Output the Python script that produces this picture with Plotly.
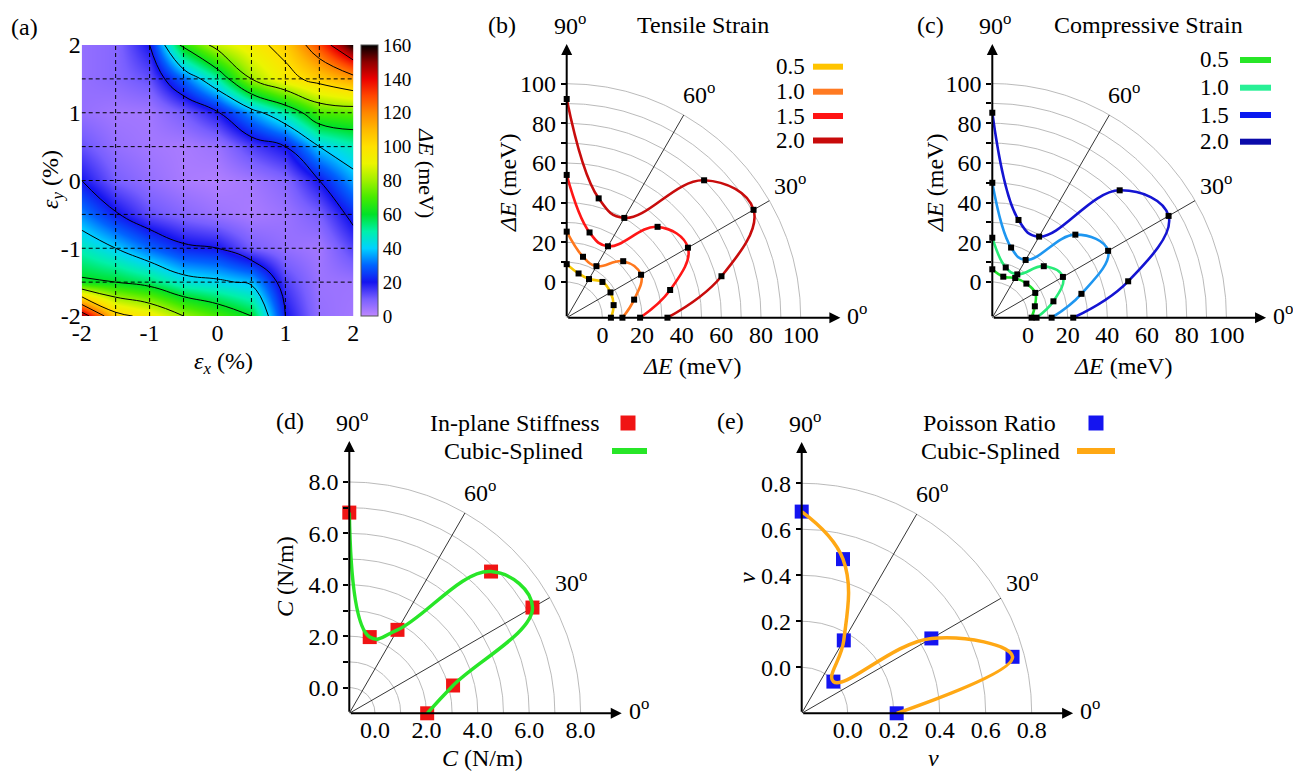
import numpy as np
import plotly.graph_objects as go

W, H = 1293, 771
FONT = "'Liberation Serif', 'Times New Roman', Times, serif"

# ---------------- data ----------------
# (a) band-gap change map, meV, on strain grid (%)
eps_x = [-2.0, -1.5, -1.0, -0.5, 0.0, 0.5, 1.0, 1.5, 2.0]
eps_y = [-2.0, -1.5, -1.0, -0.5, 0.0, 0.5, 1.0, 1.5, 2.0]
dE_map = [
    [150, 105, 95, 80, 70, 60, 20, 6, 4],
    [62, 60, 55, 45, 42, 38, 14, 5, 5],
    [48, 40, 30, 22, 20, 10, 6, 4, 14],
    [33, 21, 12, 8, 5, 3, 5, 10, 23],
    [20, 10, 6, 3, 2, 4, 8, 20, 36],
    [12, 6, 4, 3, 5, 14, 20, 40, 48],
    [6, 4, 4, 10, 19, 35, 50, 70, 72],
    [6, 8, 12, 30, 50, 80, 95, 105, 115],
    [6, 8, 20, 65, 85, 95, 105, 130, 160],
]
contour_levels = [20, 40, 60, 80, 100, 120, 140]
cbar_ticks = [0, 20, 40, 60, 80, 100, 120, 140, 160]
map_ticks = [-2, -1, 0, 1, 2]

# polar angles (degrees)
angles = [0, 15, 30, 45, 60, 75, 90]
strain_labels = ["0.5", "1.0", "1.5", "2.0"]

# (b) tensile strain, ΔE (meV)
tensile_05 = [4.3, 6.5, 7.5, 7.5, 4.5, 5.1, 9.0]
tensile_10 = [10.1, 17.2, 25.3, 22.3, 12.0, 13.8, 25.4]
tensile_15 = [19.0, 36.0, 52.6, 46.8, 23.6, 26.5, 54.0]
tensile_20 = [32.8, 62.8, 90.8, 80.0, 40.1, 44.3, 92.3]

# (c) compressive strain, ΔE (meV)
compress_05 = [1.8, 4.2, 7.0, 6.3, 5.1, 3.4, 6.4]
compress_10 = [4.3, 13.9, 23.1, 18.7, 7.2, 8.2, 22.3]
compress_15 = [11.9, 28.5, 49.4, 41.2, 15.6, 18.6, 50.0]
compress_20 = [22.8, 52.9, 84.6, 72.8, 29.2, 33.0, 85.3]

# (d) in-plane stiffness (N/m)
stiffness = [2.03, 3.18, 7.23, 6.80, 2.75, 2.07, 6.81]
# (e) Poisson ratio
poisson = [0.213, 0.749, 0.451, -0.005, 0.166, 0.494, 0.677]

# ---------------- styles ----------------
tensile_colors = ["rgb(245,198,0)", "rgb(255,120,30)", "rgb(255,22,22)", "rgb(200,12,12)"]
tensile_legend_colors = ["rgb(255,196,0)", "rgb(255,122,34)", "rgb(255,20,20)", "rgb(200,10,10)"]
compress_colors = ["rgb(30,225,45)", "rgb(40,235,120)", "rgb(30,150,240)", "rgb(20,20,210)"]
compress_legend_colors = ["rgb(40,230,40)", "rgb(40,240,150)", "rgb(10,25,240)", "rgb(10,10,170)"]

CS = [
    [0.0, "rgb(190,135,255)"], [0.0625, "rgb(120,95,255)"], [0.125, "rgb(20,20,240)"],
    [0.1875, "rgb(0,100,255)"], [0.25, "rgb(0,210,255)"], [0.3125, "rgb(0,240,170)"],
    [0.375, "rgb(0,225,40)"], [0.4375, "rgb(70,235,0)"], [0.5, "rgb(160,240,0)"],
    [0.5625, "rgb(235,245,0)"], [0.625, "rgb(255,225,0)"], [0.6875, "rgb(255,185,0)"],
    [0.75, "rgb(255,135,0)"], [0.8125, "rgb(255,70,0)"], [0.875, "rgb(235,0,0)"],
    [0.9375, "rgb(140,0,0)"], [1.0, "rgb(0,0,0)"],
]

fig = go.Figure()


def tf(size=24):
    return dict(size=size, family=FONT, color="black")


def ann_px(text, px, py, size=24, xanchor="center", yanchor="middle", angle=0):
    fig.add_annotation(text=text, x=px / W, y=1 - py / H, xref="paper", yref="paper",
                       showarrow=False, font=tf(size), xanchor=xanchor, yanchor=yanchor,
                       textangle=angle)


def line_px(x0, x1, y, color, width=6):
    fig.add_shape(type="line", xref="paper", yref="paper", x0=x0 / W, x1=x1 / W,
                  y0=1 - y / H, y1=1 - y / H, line=dict(color=color, width=width))


def rect_px(cx, cy, s, color):
    fig.add_shape(type="rect", xref="paper", yref="paper", x0=(cx - s / 2) / W, x1=(cx + s / 2) / W,
                  y0=1 - (cy + s / 2) / H, y1=1 - (cy - s / 2) / H, line=dict(width=0), fillcolor=color)


# ---------------- panel (a) ----------------
ax0, ax1, ay0, ay1 = 81.7, 353.3, 45.0, 316.0
fig.add_trace(go.Heatmap(
    x=eps_x, y=eps_y, z=dE_map, zmin=0, zmax=160, zsmooth="best", colorscale=CS,
    hoverinfo="skip", xaxis="x", yaxis="y",
    colorbar=dict(x=361 / W, xanchor="left", xpad=0, ypad=0, thickness=17,
                  len=(ay1 - ay0) / H, lenmode="fraction", y=1 - ay0 / H, yanchor="top",
                  tickvals=cbar_ticks, ticks="", tickfont=tf(19),
                  outlinewidth=1, outlinecolor="#555")))
fig.add_trace(go.Contour(
    x=eps_x, y=eps_y, z=dE_map, showscale=False, hoverinfo="skip", xaxis="x", yaxis="y",
    contours=dict(start=contour_levels[0], end=contour_levels[-1],
                  size=contour_levels[1] - contour_levels[0], coloring="none"),
    line=dict(color="black", width=1, smoothing=1.3)))
fig.update_layout(
    xaxis=dict(domain=[ax0 / W, ax1 / W], range=[-2, 2], anchor="y", showgrid=False, zeroline=False,
               tickvals=map_ticks, ticktext=[str(v) for v in map_ticks], ticks="", tickfont=tf(24)),
    yaxis=dict(domain=[1 - ay1 / H, 1 - ay0 / H], range=[-2, 2], anchor="x", showgrid=False, zeroline=False,
               tickvals=map_ticks, ticktext=[str(v) for v in map_ticks], ticks="", tickfont=tf(24)),
)
for g in [-1.5, -1.0, -0.5, 0.0, 0.5, 1.0, 1.5]:
    fig.add_shape(type="line", xref="x", yref="y", x0=g, x1=g, y0=-2, y1=2,
                  line=dict(color="black", width=1, dash="4px,3px"), layer="above")
    fig.add_shape(type="line", xref="x", yref="y", x0=-2, x1=2, y0=g, y1=g,
                  line=dict(color="black", width=1, dash="4px,3px"), layer="above")
ann_px("(a)", 24, 27)
ann_px("<i>ε</i><sub><i>x</i></sub> (%)", 223, 363)
ann_px("<i>ε</i><sub><i>y</i></sub> (%)", 52, 180, angle=-90)
ann_px("<i>ΔE</i> (meV)", 426, 173, size=22, angle=90)


# ---------------- polar panels ----------------
def fmt_num(v, dec):
    return f"{v:.{dec}f}"


def polar_panel(idx, ox, oy, scale, r0, umax, rings, xlab, ylab_all, ylab_shown, dec):
    xa, ya, xr, yr = f"xaxis{idx}", f"yaxis{idx}", f"x{idx}", f"y{idx}"
    fig.update_layout(**{
        xa: dict(domain=[ox / W, (ox + umax * scale) / W], range=[0, umax], anchor=yr,
                 showgrid=False, zeroline=False, showline=False, ticks="",
                 tickvals=[v - r0 for v in xlab], ticktext=[fmt_num(v, dec) for v in xlab],
                 tickfont=tf(24)),
        ya: dict(domain=[1 - oy / H, 1 - (oy - umax * scale) / H], range=[0, umax], anchor=xr,
                 showgrid=False, zeroline=False, showline=False, ticks="outside", ticklen=5,
                 tickwidth=1.5, tickcolor="black",
                 tickvals=[v - r0 for v in ylab_all],
                 ticktext=[fmt_num(v, dec) if any(abs(v - s) < 1e-9 for s in ylab_shown) else ""
                           for v in ylab_all],
                 tickfont=tf(24)),
    })
    th = np.deg2rad(np.linspace(0, 90, 181))
    for rv in rings:
        u = rv - r0
        fig.add_trace(go.Scatter(x=u * np.cos(th), y=u * np.sin(th), mode="lines",
                                 line=dict(color="#a8a8a8", width=0.8), hoverinfo="skip",
                                 xaxis=xr, yaxis=yr))
    uo = rings[-1] - r0
    for a in (30, 60):
        t = np.deg2rad(a)
        fig.add_trace(go.Scatter(x=[0, uo * np.cos(t)], y=[0, uo * np.sin(t)], mode="lines",
                                 line=dict(color="black", width=0.8), hoverinfo="skip",
                                 xaxis=xr, yaxis=yr))
    t60, t30 = np.deg2rad(60), np.deg2rad(30)
    fig.add_annotation(text="60<sup>o</sup>", x=uo * np.cos(t60), y=uo * np.sin(t60), xref=xr, yref=yr,
                       showarrow=False, xanchor="left", yanchor="bottom", xshift=-3, yshift=5,
                       font=tf(24))
    fig.add_annotation(text="30<sup>o</sup>", x=uo * np.cos(t30), y=uo * np.sin(t30), xref=xr, yref=yr,
                       showarrow=False, xanchor="left", yanchor="bottom", xshift=3, yshift=0,
                       font=tf(24))
    for (hx, hy) in ((umax, 0), (0, umax)):
        fig.add_annotation(text="", x=hx, y=hy, ax=0, ay=0, xref=xr, yref=yr, axref=xr, ayref=yr,
                           showarrow=True, arrowhead=2, arrowsize=1.1, arrowwidth=2, arrowcolor="black")
    fig.add_annotation(text="90<sup>o</sup>", x=0, y=umax, xref=xr, yref=yr, showarrow=False,
                       xanchor="center", yanchor="bottom", xshift=3, yshift=3, font=tf(24))
    fig.add_annotation(text="0<sup>o</sup>", x=umax, y=0, xref=xr, yref=yr, showarrow=False,
                       xanchor="left", yanchor="middle", xshift=5, yshift=4, font=tf(24))
    return xr, yr


def to_xy(rvals, r0):
    u = np.array(rvals, dtype=float) - r0
    t = np.deg2rad(np.array(angles, dtype=float))
    return u * np.cos(t), u * np.sin(t)


# (b)
R0_E = -18.0
ring_E = list(range(0, 101, 10))
xr, yr = polar_panel(2, 566.7, 317.7, 1.983, R0_E, 138, ring_E, list(range(0, 101, 20)),
                     ring_E, list(range(0, 101, 20)), 0)
for vals, col in zip([tensile_05, tensile_10, tensile_15, tensile_20], tensile_colors):
    x, y = to_xy(vals, R0_E)
    fig.add_trace(go.Scatter(x=x, y=y, mode="lines+markers", cliponaxis=False,
                             line=dict(color=col, width=2.6, shape="spline", smoothing=1.2),
                             marker=dict(symbol="square", size=6, color="black"),
                             hoverinfo="skip", xaxis=xr, yaxis=yr))
ann_px("(b)", 502, 25)
ann_px("Tensile Strain", 703, 25)
ann_px("<i>ΔE</i> (meV)", 692, 366)
ann_px("<i>ΔE</i> (meV)", 508, 183, angle=-90)
for lab, col, yy in zip(strain_labels, tensile_legend_colors, [66.7, 91.7, 116, 140.5]):
    ann_px(lab, 807, yy, size=23, xanchor="right")
    line_px(813, 843, yy, col)

# (c)
xr, yr = polar_panel(3, 992.3, 317.7, 1.984, R0_E, 138, ring_E, list(range(0, 101, 20)),
                     ring_E, list(range(0, 101, 20)), 0)
for vals, col in zip([compress_05, compress_10, compress_15, compress_20], compress_colors):
    x, y = to_xy(vals, R0_E)
    fig.add_trace(go.Scatter(x=x, y=y, mode="lines+markers", cliponaxis=False,
                             line=dict(color=col, width=2.6, shape="spline", smoothing=1.2),
                             marker=dict(symbol="square", size=6, color="black"),
                             hoverinfo="skip", xaxis=xr, yaxis=yr))
ann_px("(c)", 930, 25)
ann_px("Compressive Strain", 1148, 25)
ann_px("<i>ΔE</i> (meV)", 1123, 366)
ann_px("<i>ΔE</i> (meV)", 935, 183, angle=-90)
for lab, col, yy in zip(strain_labels, compress_legend_colors, [60, 87.7, 115, 141.7]):
    ann_px(lab, 1231, yy, size=23, xanchor="right")
    line_px(1240, 1271, yy, col)

# (d)
R0_C = -1.0
ring_C = [0, 1, 2, 3, 4, 5, 6, 7, 8]
xr, yr = polar_panel(4, 349.3, 713.3, 25.7, R0_C, 10.6, ring_C, [0, 2, 4, 6, 8],
                     ring_C, [0, 2, 4, 6, 8], 1)
x, y = to_xy(stiffness, R0_C)
fig.add_trace(go.Scatter(x=x, y=y, mode="markers", cliponaxis=False,
                         marker=dict(symbol="square", size=14, color="rgb(240,20,20)"),
                         hoverinfo="skip", xaxis=xr, yaxis=yr))
fig.add_trace(go.Scatter(x=x, y=y, mode="lines", cliponaxis=False,
                         line=dict(color="rgb(40,230,40)", width=3.5, shape="spline", smoothing=1.2),
                         hoverinfo="skip", xaxis=xr, yaxis=yr))
ann_px("(d)", 290, 421)
ann_px("In-plane Stiffness", 602, 423, xanchor="right")
rect_px(628, 423, 15, "rgb(240,20,20)")
ann_px("Cubic-Splined", 585, 451, xanchor="right")
line_px(612, 647, 451, "rgb(40,230,40)")
ann_px("<i>C</i> (N/m)", 482, 758)
ann_px("<i>C</i> (N/m)", 285, 577, angle=-90)

# (e)
R0_P = -0.2
ring_P = [0.0, 0.2, 0.4, 0.6, 0.8]
xr, yr = polar_panel(5, 801.7, 713.3, 230.0, R0_P, 1.18, ring_P, ring_P, ring_P, ring_P, 1)
x, y = to_xy(poisson, R0_P)
fig.add_trace(go.Scatter(x=x, y=y, mode="markers", cliponaxis=False,
                         marker=dict(symbol="square", size=14, color="rgb(20,20,240)"),
                         hoverinfo="skip", xaxis=xr, yaxis=yr))
fig.add_trace(go.Scatter(x=x, y=y, mode="lines", cliponaxis=False,
                         line=dict(color="rgb(255,168,20)", width=3.5, shape="spline", smoothing=1.2),
                         hoverinfo="skip", xaxis=xr, yaxis=yr))
ann_px("(e)", 730, 421)
ann_px("Poisson Ratio", 1058, 423, xanchor="right")
rect_px(1096, 423, 15, "rgb(20,20,240)")
ann_px("Cubic-Splined", 1062, 451, xanchor="right")
line_px(1077, 1115, 451, "rgb(255,168,20)")
ann_px("<i>ν</i>", 933, 758)
ann_px("<i>ν</i>", 747, 578, angle=-90)

fig.update_layout(width=W, height=H, margin=dict(l=0, r=0, t=0, b=0, pad=0, autoexpand=False),
                  showlegend=False, paper_bgcolor="white", plot_bgcolor="rgba(0,0,0,0)",
                  font=dict(family=FONT, color="black"))
fig.write_html("out.html", config={"displayModeBar": False},
               post_script="document.body.style.margin='0px';document.body.style.overflow='hidden';")
